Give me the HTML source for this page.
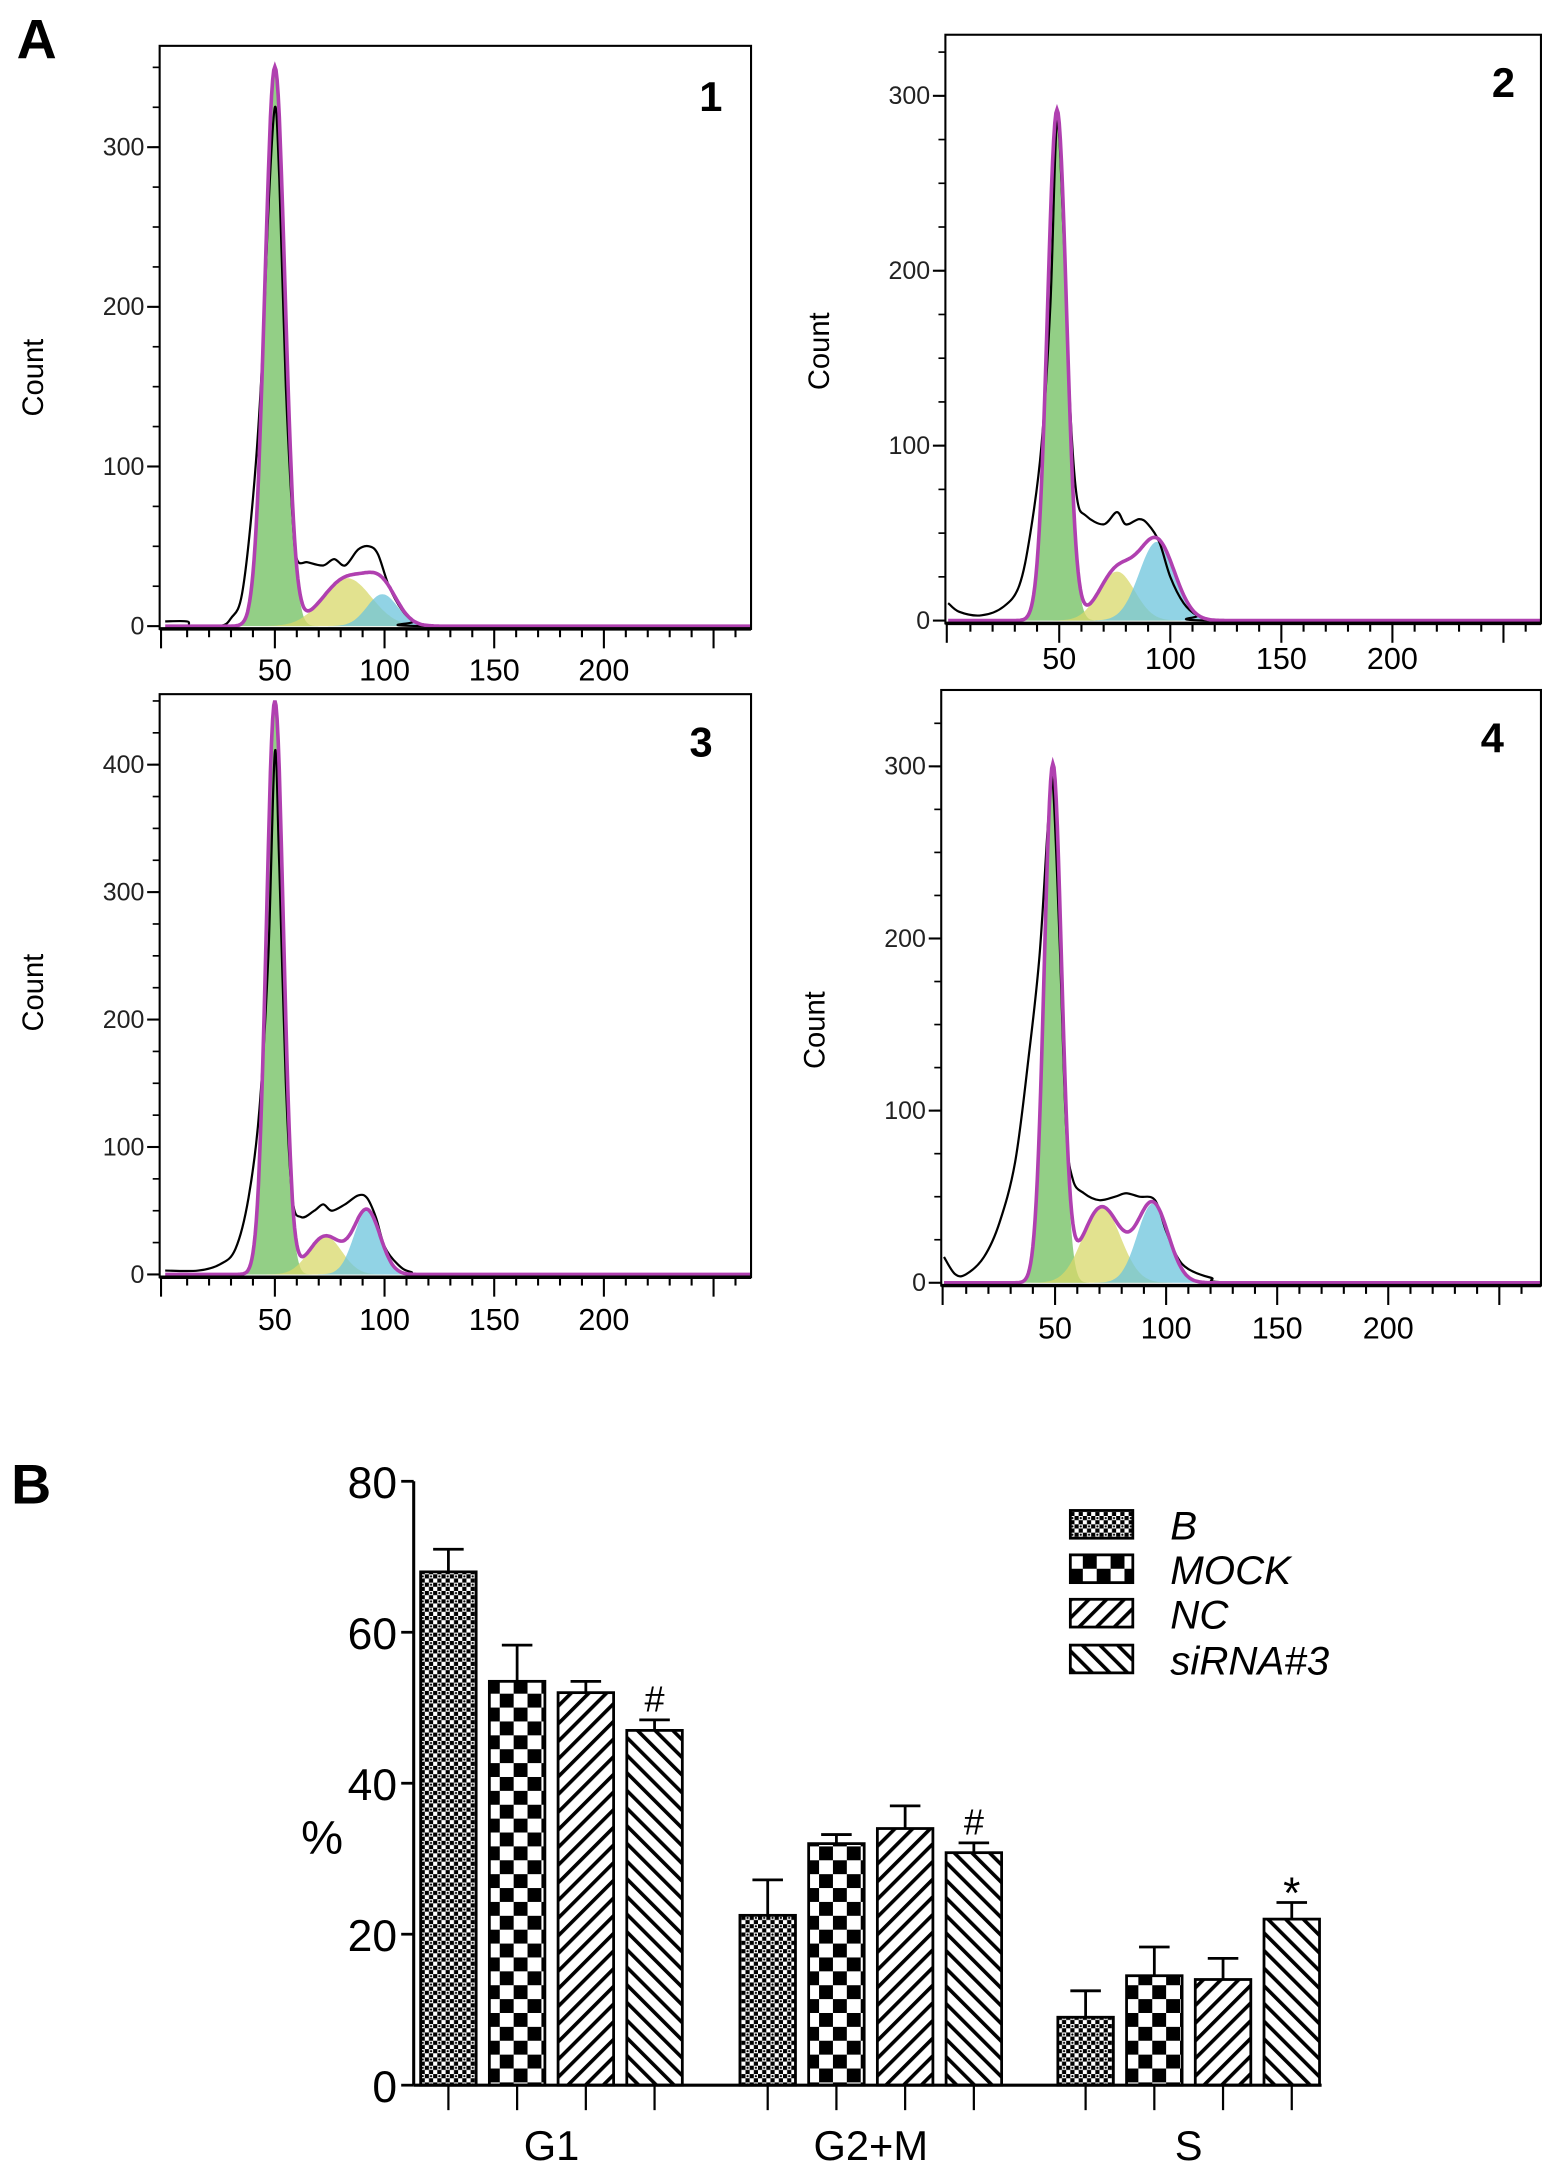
<!DOCTYPE html>
<html><head><meta charset="utf-8"><style>
html,body{margin:0;padding:0;background:#fff}
svg{display:block}
text{font-family:"Liberation Sans",Arial,sans-serif}
</style></head><body>
<svg id="fig" width="1559" height="2181" viewBox="0 0 1123 1571" xmlns="http://www.w3.org/2000/svg">
<defs>
<pattern id="pB" width="6" height="6" patternUnits="userSpaceOnUse"><rect width="6" height="6" fill="#fff"/><rect width="3" height="3" fill="#000"/><rect x="3" y="3" width="3" height="3" fill="#000"/><circle cx="4.5" cy="1.5" r="0.8" fill="#000"/></pattern>
<pattern id="pM" width="20" height="20" patternUnits="userSpaceOnUse"><rect width="20" height="20" fill="#fff"/><rect width="10" height="10" fill="#000"/><rect x="10" y="10" width="10" height="10" fill="#000"/></pattern>
<pattern id="pN" width="9" height="9" patternUnits="userSpaceOnUse" patternTransform="rotate(45)"><rect width="9" height="9" fill="#fff"/><rect width="2.6" height="9" fill="#000"/></pattern>
<pattern id="pS" width="9" height="9" patternUnits="userSpaceOnUse" patternTransform="rotate(-45)"><rect width="9" height="9" fill="#fff"/><rect width="2.6" height="9" fill="#000"/></pattern>
</defs>
<text x="12" y="42" font-size="40" font-weight="bold">A</text>
<text x="8" y="1083" font-size="40" font-weight="bold">B</text>
<g id="hists"></g>
<g id="bars"></g>
</svg>
<script>
// ---------- Histogram data (DNA content vs count) ----------
const histTicksX = [50, 100, 150, 200];
const hist1Black = [[0,3],[10,3],[12,0],[25,0],[30,5],[35,20],[40,80],[44,160],[47,260],[50,325],[52,280],[55,150],[58,70],[60,42],[65,40],[72,38],[77,42],[82,38],[88,48],[93,50],[97,45],[102,25],[108,10],[113,3],[118,0],[262,0]];
const hist2Black = [[0,10],[5,5],[15,3],[25,8],[32,20],[37,50],[42,100],[46,180],[49,285],[52,220],[55,120],[58,70],[62,60],[70,55],[76,62],[80,55],[86,58],[90,55],[95,45],[100,25],[106,10],[112,3],[120,0],[262,0]];
const hist3Black = [[0,3],[15,3],[25,8],[32,20],[38,60],[43,130],[47,250],[50,410],[52,320],[55,150],[58,60],[62,45],[68,50],[72,55],[76,50],[82,55],[88,62],[92,60],[96,45],[100,22],[106,8],[112,2],[125,0],[262,0]];
const hist4Black = [[0,15],[5,5],[10,5],[18,15],[25,35],[32,70],[38,130],[43,190],[47,270],[49,290],[52,200],[55,90],[58,60],[63,52],[70,48],[77,50],[82,52],[88,50],[95,48],[100,30],[105,15],[110,8],[120,3],[135,0],[262,0]];
// fitted components [height, center, sigma]
const hist1G1 = [350, 50, 4.6], hist1S = [30, 83, 11], hist1G2 = [20, 99, 7];
const hist2G1 = [292, 49, 4.3], hist2S = [28, 76, 8], hist2G2 = [45, 94, 8];
const hist3G1 = [450, 50, 3.9], hist3S = [30, 73, 7.5], hist3G2 = [50, 92, 6];
const hist4G1 = [300, 49, 3.9], hist4S = [44, 71, 8.5], hist4G2 = [46, 94, 7];
const hist1YTicks = [0,100,200,300], hist2YTicks = [0,100,200,300], hist3YTicks = [0,100,200,300,400], hist4YTicks = [0,100,200,300];

// ---------- Bar chart data ----------
const phases = ["G1", "G2+M", "S"];
const groups = ["B", "MOCK", "NC", "siRNA#3"];
const meanB = [68, 22.5, 9];
const meanMOCK = [53.5, 32, 14.5];
const meanNC = [52, 34, 14];
const meanSi = [47, 30.8, 22];
const errB = [3, 4.7, 3.5];
const errMOCK = [4.8, 1.2, 3.8];
const errNC = [1.5, 3, 2.8];
const errSi = [1.4, 1.3, 2.2];
const marksSi = ["#", "#", "*"];
const barTicks = [0, 20, 40, 60, 80];

const NS = "http://www.w3.org/2000/svg";
function mk(tag, attrs, parent, txt) {
  const e = document.createElementNS(NS, tag);
  for (const k in attrs) e.setAttribute(k, attrs[k]);
  if (txt !== undefined) e.textContent = txt;
  parent.appendChild(e);
  return e;
}
function gauss(p, x) { return p[0] * Math.exp(-0.5 * Math.pow((x - p[1]) / p[2], 2)); }
function smooth(pts) {
  let d = "M" + pts[0][0].toFixed(1) + "," + pts[0][1].toFixed(1);
  for (let i = 0; i < pts.length - 1; i++) {
    const p0 = pts[Math.max(i - 1, 0)], p1 = pts[i], p2 = pts[i + 1], p3 = pts[Math.min(i + 2, pts.length - 1)];
    const c1 = [p1[0] + (p2[0] - p0[0]) / 6, p1[1] + (p2[1] - p0[1]) / 6];
    const c2 = [p2[0] - (p3[0] - p1[0]) / 6, p2[1] - (p3[1] - p1[1]) / 6];
    d += " C" + c1[0].toFixed(1) + "," + c1[1].toFixed(1) + " " + c2[0].toFixed(1) + "," + c2[1].toFixed(1) + " " + p2[0].toFixed(1) + "," + p2[1].toFixed(1);
  }
  return d;
}

const panels = [
  {n:"1", L:115, T:33, R:541, B:453, x0:119, k:1.58, ky:1.15, black:hist1Black, g1:hist1G1, s:hist1S, g2:hist1G2, yt:hist1YTicks, lblY:490, numX:512, numY:80, cntY:272},
  {n:"2", L:681, T:25, R:1110, B:449, x0:683, k:1.6, ky:1.26, black:hist2Black, g1:hist2G1, s:hist2S, g2:hist2G2, yt:hist2YTicks, lblY:482, numX:1083, numY:70, cntY:253},
  {n:"3", L:115, T:500, R:541, B:920, x0:119, k:1.58, ky:0.918, black:hist3Black, g1:hist3G1, s:hist3S, g2:hist3G2, yt:hist3YTicks, lblY:958, numX:505, numY:545, cntY:715},
  {n:"4", L:678, T:497, R:1110, B:926, x0:680, k:1.6, ky:1.24, black:hist4Black, g1:hist4G1, s:hist4S, g2:hist4G2, yt:hist4YTicks, lblY:964, numX:1075, numY:542, cntY:742}
];
const hg = document.getElementById("hists");
panels.forEach(p => {
  const g = mk("g", {}, hg);
  
  
  const X = v => p.x0 + v * p.k;
  const Y = v => p.B - 2 - v * p.ky;
  const xmax = (p.R - p.x0) / p.k;
  const comp = (par, cls, col) => {
    let d = "M" + X(0) + "," + Y(0);
    for (let v = 0; v <= 140; v += 0.5) d += " L" + X(v).toFixed(1) + "," + Y(gauss(par, v)).toFixed(1);
    d += " L" + X(140) + "," + Y(0) + " Z";
    const e = mk("path", {d: d, fill: col, "fill-opacity": 0.75}, g);
    
    
  };
  comp(p.g1, 'g1-peak-fill', '#6fbf5e');
  comp(p.s, 's-phase-fill', '#d8d86a');
  comp(p.g2, 'g2-peak-fill', '#6cc4dc');
  const pts = p.black.filter(pt => pt[0] <= xmax).map(pt => [X(pt[0]), Y(pt[1])]);
  const bl = mk("path", {d: smooth(pts), fill: "none", stroke: "#000", "stroke-width": 1.6}, g);
  
  
  let dp = "";
  for (let v = 0; v <= xmax; v += 0.5) {
    const y = gauss(p.g1, v) + gauss(p.s, v) + gauss(p.g2, v);
    dp += (v ? " L" : "M") + X(v).toFixed(1) + "," + Y(y).toFixed(1);
  }
  const pl = mk("path", {d: dp, fill: "none", stroke: "#b040b0", "stroke-width": 2.6}, g);
  
  
  const fr = mk("rect", {x: p.L, y: p.T, width: p.R - p.L, height: p.B - p.T, fill: "none", stroke: "#000", "stroke-width": 1.5}, g);
  
  
  mk("line", {x1: p.L, y1: p.B, x2: p.R, y2: p.B, stroke: "#000", "stroke-width": 2.5}, g);
  for (let v = 10; v <= xmax; v += 10) {
    const big = v % 50 === 0;
    mk("line", {x1: X(v), y1: p.B, x2: X(v), y2: p.B + (big ? 14 : 6), stroke: "#000", "stroke-width": 1.5}, g);
  }
  mk("line", {x1: p.L + 1, y1: p.B, x2: p.L + 1, y2: p.B + 14, stroke: "#000", "stroke-width": 1.5}, g);
  histTicksX.forEach(v => {
    const t = mk("text", {x: X(v), y: p.lblY, "font-size": 22, "text-anchor": "middle"}, g, v);
    
    
  });
  const ymaxV = (p.B - p.T) / p.ky;
  for (let v = 25; v < ymaxV; v += 25) mk("line", {x1: p.L - 5, y1: Y(v), x2: p.L, y2: Y(v), stroke: "#000", "stroke-width": 1.2}, g);
  p.yt.forEach(v => {
    mk("line", {x1: p.L - 9, y1: Y(v), x2: p.L, y2: Y(v), stroke: "#000", "stroke-width": 1.5}, g);
    const t = mk("text", {x: p.L - 11, y: Y(v) + 6, "font-size": 18, "text-anchor": "end", fill: "#222"}, g, v);
    
    
  });
  const c = mk("text", {x: 0, y: 0, "font-size": 21, "text-anchor": "middle", transform: "translate(" + (p.L - 84) + "," + p.cntY + ") rotate(-90)"}, g, "Count");
  
  
  const nm = mk("text", {x: p.numX, y: p.numY, "font-size": 30, "font-weight": "bold", "text-anchor": "middle"}, g, p.n);
  
  
});

// ---------- Bar chart ----------
const bg = document.getElementById("bars");
const axX = 298, y0 = 1502, pxPer = 435 / 80;
const by = v => y0 - v * pxPer;
const groupStart = [303, 533, 762], bw = 40, step = 49.5;
const fills = ["url(#pB)", "url(#pM)", "url(#pN)", "url(#pS)"];
const means = [meanB, meanMOCK, meanNC, meanSi];
const errs = [errB, errMOCK, errNC, errSi];
phases.forEach((ph, pi) => {
  groups.forEach((gname, gi) => {
    const x = groupStart[pi] + gi * step;
    const v = means[gi][pi], e = errs[gi][pi];
    const cx = x + bw / 2;
    const el = mk("line", {x1: cx, y1: by(v), x2: cx, y2: by(v + e), stroke: "#000", "stroke-width": 2}, bg);
    
    
    mk("line", {x1: cx - 11, y1: by(v + e), x2: cx + 11, y2: by(v + e), stroke: "#000", "stroke-width": 2}, bg);
    const r = mk("rect", {x: x, y: by(v), width: bw, height: y0 - by(v), fill: fills[gi], stroke: "#000", "stroke-width": 2}, bg);
    
    
    mk("line", {x1: cx, y1: y0, x2: cx, y2: y0 + 18, stroke: "#000", "stroke-width": 1.6}, bg);
    if (gi === 3) {
      const m = mk("text", {x: cx, y: by(v + e) - 6 + (marksSi[pi] === "*" ? 10 : 0), "font-size": marksSi[pi] === "*" ? 32 : 26, "text-anchor": "middle"}, bg, marksSi[pi]);
      
      
    }
  });
  const cxg = groupStart[pi] + 1.5 * step + bw / 2;
  const t = mk("text", {x: cxg, y: 1556, "font-size": 30, "text-anchor": "middle"}, bg, ph);
  
  
});
mk("line", {x1: axX, y1: y0, x2: 952, y2: y0, stroke: "#000", "stroke-width": 2.2}, bg);
mk("line", {x1: axX, y1: by(80), x2: axX, y2: y0, stroke: "#000", "stroke-width": 2.2}, bg);
barTicks.forEach(v => {
  mk("line", {x1: axX - 9, y1: by(v), x2: axX, y2: by(v), stroke: "#000", "stroke-width": 2}, bg);
  const t = mk("text", {x: axX - 12, y: by(v) + 12, "font-size": 32, "text-anchor": "end"}, bg, v);
  
  
});
const pc = mk("text", {x: 232, y: 1335, "font-size": 34, "text-anchor": "middle"}, bg, "%");


const legY = [1098, 1130, 1162, 1195];
groups.forEach((gname, gi) => {
  const r = mk("rect", {x: 771, y: legY[gi] - 10, width: 45, height: 20, fill: fills[gi], stroke: "#000", "stroke-width": 2}, bg);
  
  
  const t = mk("text", {x: 843, y: legY[gi] + 11, "font-size": 29, "font-style": "italic"}, bg, gname);
  
  
});
</script>
</body></html>
